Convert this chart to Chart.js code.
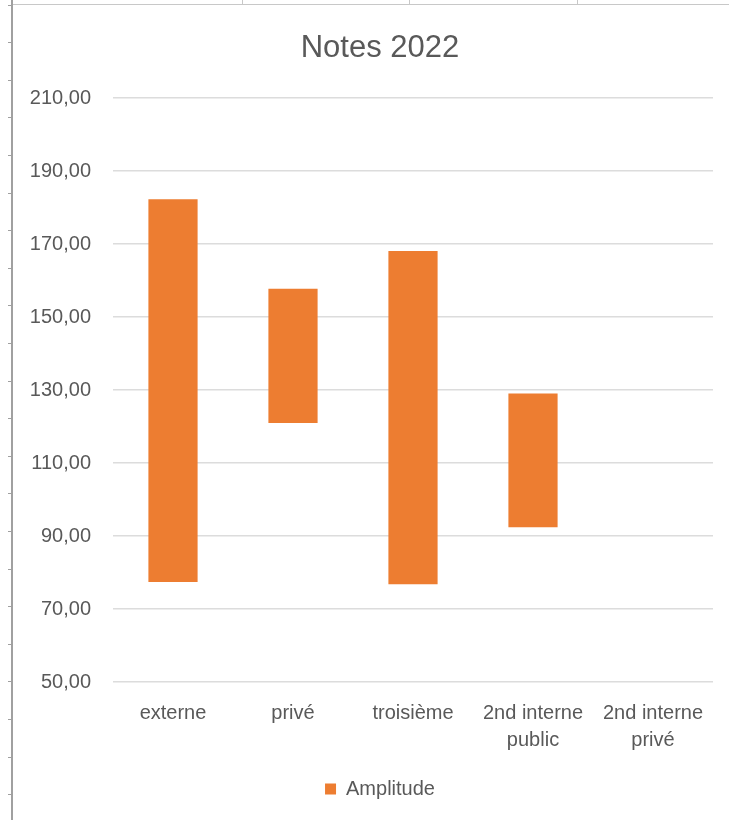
<!DOCTYPE html>
<html>
<head>
<meta charset="utf-8">
<script src="https://cdn.jsdelivr.net/npm/chart.js@4"></script>
<style>
  html, body { margin: 0; padding: 0; background: #fff; }
  #wrap { position: relative; width: 729px; height: 820px; }
</style>
</head>
<body>
<div id="wrap"><canvas id="chart" width="729" height="820"></canvas></div>
<script>
// data
var categories = ["externe", "privé", "troisième", ["2nd interne", "public"], ["2nd interne", "privé"]]
var lowValues = [77.4, 121.0, 76.8, 92.4, null]
var highValues = [182.3, 157.8, 168.1, 129.1, null]
var seriesName = "Amplitude"
var yMin = 50, yMax = 210, yStep = 20

var ranges = []
lowValues.forEach((low, i) => {
    ranges.push(low == null ? null : [low, highValues[i]])
})

// spreadsheet cell lines behind the chart
var sheetLines = {
    id: "sheetLines",
    afterLayout(chart) {
        // let the y labels spill into the left padding without being clipped
        chart.scales.y.left = 14
    },
    beforeDraw(chart) {
        var ctx = chart.ctx
        ctx.save()
        ctx.fillStyle = "#fff"
        ctx.fillRect(0, 0, chart.width, chart.height)
        ctx.strokeStyle = "#c8c8c8"
        ctx.lineWidth = 1
        ctx.beginPath()
        ctx.moveTo(13, 4.5); ctx.lineTo(729, 4.5)
        ;[242.5, 409.5, 577.5].forEach(x => { ctx.moveTo(x, 0); ctx.lineTo(x, 4.5) })
        ctx.stroke()
        ctx.strokeStyle = "#a0a0a0"
        ctx.lineWidth = 2
        ctx.beginPath()
        ctx.moveTo(12, 0); ctx.lineTo(12, 820)
        ctx.stroke()
        ctx.lineWidth = 1
        ctx.beginPath()
        for (var y = 4.5; y < 820; y += 37.6) { ctx.moveTo(8, Math.round(y) + 0.5); ctx.lineTo(12, Math.round(y) + 0.5) }
        ctx.stroke()
        ctx.restore()
    }
}

Chart.defaults.font.family = "'Liberation Sans', Arial, sans-serif"
Chart.defaults.color = "#595959"

new Chart(document.getElementById("chart"), {
    type: "bar",
    data: {
        labels: categories,
        datasets: [{
            label: seriesName,
            data: ranges,
            backgroundColor: "#ED7D31",
            borderWidth: 0,
            borderSkipped: false,
            categoryPercentage: 1,
            barPercentage: 0.41
        }]
    },
    options: {
        responsive: false,
        animation: false,
        devicePixelRatio: 1,
        layout: { padding: { left: 47, right: 16, top: 12, bottom: 11 } },
        plugins: {
            title: {
                display: true,
                text: "Notes 2022",
                color: "#595959",
                font: { size: 31, weight: "normal" },
                padding: { top: 18, bottom: 31 }
            },
            legend: {
                position: "bottom",
                labels: {
                    boxWidth: 11,
                    boxHeight: 11,
                    font: { size: 20 },
                    color: "#595959",
                    padding: 10
                }
            },
            tooltip: { enabled: false }
        },
        scales: {
            x: {
                grid: { display: false },
                border: { display: false },
                ticks: { font: { size: 20, lineHeight: 1.35 }, padding: 10, maxRotation: 0, autoSkip: false },
                afterFit(scale) { scale.height = 87 }
            },
            y: {
                min: yMin,
                max: yMax,
                grid: { color: "#dcdcdc", lineWidth: 1.5, drawTicks: false },
                border: { display: false },
                ticks: {
                    stepSize: yStep,
                    padding: 22,
                    font: { size: 20 },
                    callback: v => v.toFixed(2).replace(".", ",")
                },
                afterFit(scale) { scale.width = 66 }
            }
        }
    },
    plugins: [sheetLines]
})
</script>
</body>
</html>
